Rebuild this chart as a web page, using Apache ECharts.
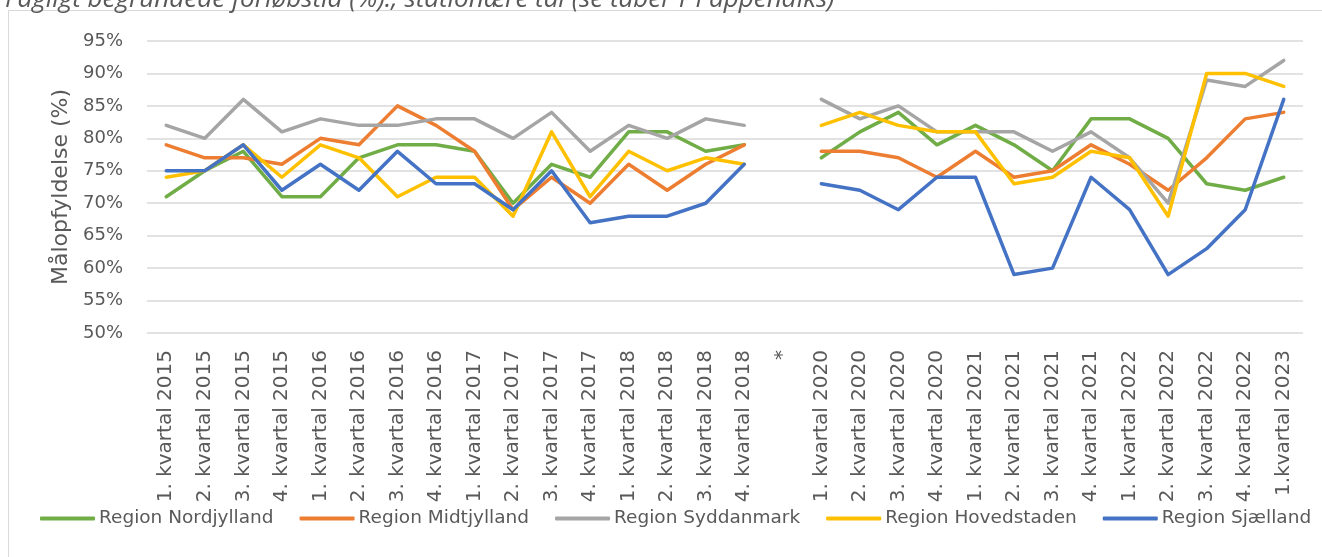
<!DOCTYPE html>
<html>
<head>
<meta charset="utf-8">
<script src="https://cdn.jsdelivr.net/npm/echarts@6/dist/echarts.min.js"></script>
<style>
html, body { margin: 0; padding: 0; background: #fff; }
#main { width: 1322px; height: 557px; }
</style>
</head>
<body>
<div id="main"></div>
<script>
var categories = [
	'1. kvartal 2015', '2. kvartal 2015', '3. kvartal 2015', '4. kvartal 2015',
	'1. kvartal 2016', '2. kvartal 2016', '3. kvartal 2016', '4. kvartal 2016',
	'1. kvartal 2017', '2. kvartal 2017', '3. kvartal 2017', '4. kvartal 2017',
	'1. kvartal 2018', '2. kvartal 2018', '3. kvartal 2018', '4. kvartal 2018',
	'*',
	'1. kvartal 2020', '2. kvartal 2020', '3. kvartal 2020', '4. kvartal 2020',
	'1. kvartal 2021', '2. kvartal 2021', '3. kvartal 2021', '4. kvartal 2021',
	'1. kvartal 2022', '2. kvartal 2022', '3. kvartal 2022', '4. kvartal 2022',
	'1.kvartal 2023'
];

// procent, null = ingen data ("*")
var nordjylland = [71, 75, 78, 71, 71, 77, 79, 79, 78, 70, 76, 74, 81, 81, 78, 79, null,
	77, 81, 84, 79, 82, 79, 75, 83, 83, 80, 73, 72, 74];
var midtjylland = [79, 77, 77, 76, 80, 79, 85, 82, 78, 69, 74, 70, 76, 72, 76, 79, null,
	78, 78, 77, 74, 78, 74, 75, 79, 76, 72, 77, 83, 84];
var syddanmark = [82, 80, 86, 81, 83, 82, 82, 83, 83, 80, 84, 78, 82, 80, 83, 82, null,
	86, 83, 85, 81, 81, 81, 78, 81, 77, 70, 89, 88, 92];
var hovedstaden = [74, 75, 79, 74, 79, 77, 71, 74, 74, 68, 81, 71, 78, 75, 77, 76, null,
	82, 84, 82, 81, 81, 73, 74, 78, 77, 68, 90, 90, 88];
var sjaelland = [75, 75, 79, 72, 76, 72, 78, 73, 73, 69, 75, 67, 68, 68, 70, 76, null,
	73, 72, 69, 74, 74, 59, 60, 74, 69, 59, 63, 69, 86];

var regionNames = ['Region Nordjylland', 'Region Midtjylland', 'Region Syddanmark', 'Region Hovedstaden', 'Region Sjælland'];
var regionData = [nordjylland, midtjylland, syddanmark, hovedstaden, sjaelland];
var colors = ['#70AD47', '#ED7D31', '#A5A5A5', '#FFC000', '#4472C4'];

var txtColor = '#595959';
var font = 'DejaVu Sans';

var chart = echarts.init(document.getElementById('main'));

var series = regionNames.map(function(name, i) {
	return {
		name: name,
		type: 'line',
		data: regionData[i],
		symbol: 'none',
		connectNulls: false,
		lineStyle: { width: 3.5, color: colors[i], join: 'round', cap: 'round' },
		itemStyle: { color: colors[i] }
	};
});

var option = {
	animation: false,
	title: {
		text: 'Fagligt begrundede forløbstid (%)., stationære tal (se tabel 1 i appendiks)',
		left: 0,
		top: -18,
		textStyle: {
			fontFamily: 'Open Sans',
			fontStyle: 'italic',
			fontWeight: 'normal',
			fontSize: 26,
			color: txtColor
		}
	},
	graphic: [{
		type: 'rect',
		shape: { x: 8.5, y: 10.5, width: 1340, height: 600 },
		style: { fill: 'none', stroke: '#d9d9d9', lineWidth: 1 },
		silent: true,
		z: -1
	}],
	grid: {
		left: 147,
		right: 19,
		top: 41,
		bottom: 224
	},
	legend: {
		data: regionNames,
		icon: 'roundRect',
		left: 40,
		top: 509,
		width: 1300,
		padding: 0,
		itemWidth: 55,
		itemHeight: 4,
		itemGap: 26,
		textStyle: { fontFamily: font, fontSize: 18.5, color: txtColor, padding: [0, 0, 0, -1] }
	},
	xAxis: {
		type: 'category',
		data: categories,
		boundaryGap: true,
		axisLine: { show: false },
		axisTick: { show: false },
		axisLabel: {
			rotate: 90,
			interval: 0,
			margin: 17,
			fontFamily: font,
			fontSize: 20,
			color: txtColor
		}
	},
	yAxis: {
		type: 'value',
		min: 50,
		max: 95,
		interval: 5,
		name: 'Målopfyldelse (%)',
		nameLocation: 'middle',
		nameRotate: 90,
		nameGap: 72,
		nameTextStyle: { fontFamily: font, fontSize: 22, color: txtColor },
		axisLine: { show: false },
		axisTick: { show: false },
		axisLabel: {
			margin: 24,
			fontFamily: font,
			fontSize: 18,
			color: txtColor,
			formatter: '{value}%'
		},
		splitLine: { lineStyle: { color: '#d9d9d9', width: 1.5 } }
	},
	series: series
};

chart.setOption(option);
</script>
</body>
</html>
